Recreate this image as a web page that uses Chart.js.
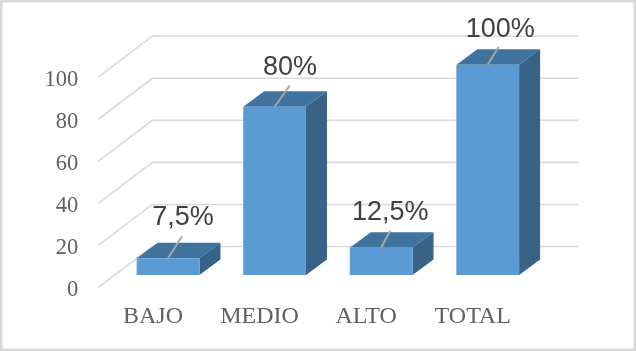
<!DOCTYPE html>
<html><head><meta charset="utf-8">
<style>html,body{margin:0;padding:0;background:#fff}canvas{display:block;filter:blur(0.45px)}</style>
<script src="https://cdn.jsdelivr.net/npm/chart.js@4"></script>
</head><body><canvas id="c" width="636" height="351"></canvas>
<script>
const categories = ["BAJO", "MEDIO", "ALTO", "TOTAL"];
const values = [8, 80, 13, 100];
const pointLabels = ["7,5%", "80%", "12,5%", "100%"];
const yTicks = [0, 20, 40, 60, 80, 100];

const depth = {dx: 21, dy: 15.5};
const wall = {frontDx: -16.5, frontDy: 12.5, backDx: 37.5, backDy: -28.5, right: 578.5};
const leaderEnds = [[14, -22], [15, -21], [9, -17], [11, -18]];
const labelCentres = [[15, -40.5], [15.5, -39.5], [9, -35.5], [12.5, -35]];

const look3d = {
  id: "look3d",
  beforeDraw(chart) {
    const c = chart.ctx;
    c.save();
    c.fillStyle = "#fff";
    c.fillRect(0, 0, chart.width, chart.height);
    c.strokeStyle = "#d9d9d9";
    c.lineWidth = 2.5;
    c.strokeRect(1.25, 1.25, chart.width - 2.5, chart.height - 2.5);
    c.restore();
  },
  beforeDatasetsDraw(chart) {
    const c = chart.ctx, y = chart.scales.y, left = chart.chartArea.left;
    c.save();
    c.strokeStyle = "#d9d9d9";
    c.lineWidth = 1.6;
    yTicks.forEach(v => {
      const p = y.getPixelForValue(v);
      c.beginPath();
      c.moveTo(left + wall.frontDx, p + wall.frontDy);
      c.lineTo(left + wall.backDx, p + wall.backDy);
      c.lineTo(wall.right, p + wall.backDy);
      c.stroke();
    });
    chart.getDatasetMeta(0).data.forEach(b => {
      const l = b.x - b.width / 2, r = b.x + b.width / 2;
      c.fillStyle = "#41739f";
      c.beginPath();
      c.moveTo(l, b.y);
      c.lineTo(l + depth.dx, b.y - depth.dy);
      c.lineTo(r + depth.dx, b.y - depth.dy);
      c.lineTo(r, b.y);
      c.closePath();
      c.fill();
      c.fillStyle = "#386286";
      c.beginPath();
      c.moveTo(r, b.y);
      c.lineTo(r + depth.dx, b.y - depth.dy);
      c.lineTo(r + depth.dx, b.base - depth.dy);
      c.lineTo(r, b.base);
      c.closePath();
      c.fill();
    });
    c.restore();
  },
  afterDatasetsDraw(chart) {
    const c = chart.ctx;
    c.save();
    c.textAlign = "center";
    c.textBaseline = "middle";
    c.font = '27px "Liberation Sans"';
    chart.getDatasetMeta(0).data.forEach((b, i) => {
      c.strokeStyle = "#a6a6a6";
      c.lineWidth = 2;
      c.beginPath();
      c.moveTo(b.x, b.y);
      c.lineTo(b.x + leaderEnds[i][0], b.y + leaderEnds[i][1]);
      c.stroke();
      c.fillStyle = "#404040";
      c.fillText(pointLabels[i], b.x + labelCentres[i][0], b.y + labelCentres[i][1]);
    });
    c.restore();
  }
};

new Chart(document.getElementById("c"), {
  type: "bar",
  data: {
    labels: categories,
    datasets: [{
      data: values,
      backgroundColor: "#5b9bd5",
      barPercentage: 0.589,
      categoryPercentage: 1
    }]
  },
  options: {
    responsive: false,
    animation: false,
    layout: {padding: {top: 64.7, right: 95, left: 0, bottom: 0}},
    plugins: {legend: {display: false}, tooltip: {enabled: false}},
    scales: {
      x: {
        grid: {display: false},
        border: {display: false},
        afterFit(s) { s.height = 76; },
        ticks: {
          color: "#606060",
          font: {family: "Liberation Serif", size: 24},
          padding: 19.5,
          labelOffset: -15,
          maxRotation: 0,
          autoSkip: false
        }
      },
      y: {
        min: 0,
        max: 100,
        grid: {display: false},
        border: {display: false},
        afterFit(s) { s.width = 114.75; },
        afterBuildTicks(s) { s.ticks = yTicks.map(v => ({value: v})); },
        ticks: {
          color: "#606060",
          font: {family: "Liberation Serif", size: 22.5},
          padding: 28.5,
          labelOffset: 15.5
        }
      }
    }
  },
  plugins: [look3d]
});
</script></body></html>
